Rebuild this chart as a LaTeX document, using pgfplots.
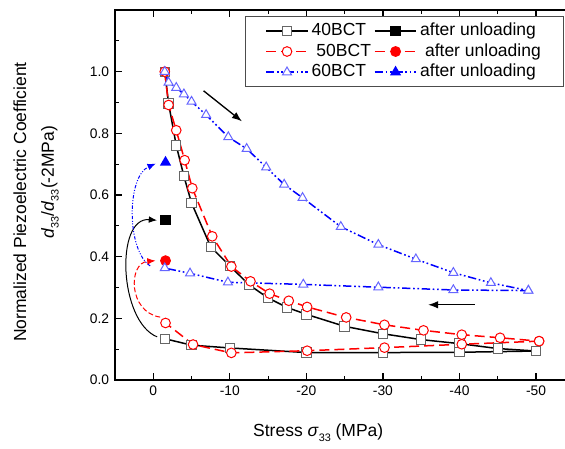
\documentclass[border=0pt]{standalone}
\usepackage{fontspec}
\setmainfont{Liberation Sans}
\usepackage{pgfplots}
\pgfplotsset{compat=1.18}
\usetikzlibrary{arrows.meta}

\newcommand{\sub}[1]{\raisebox{-0.5ex}{\fontsize{6.5}{7}\selectfont #1}}

\begin{document}
\begin{tikzpicture}
\begin{axis}[
    at={(0,0)}, anchor=south west,
    scale only axis,
    width=275.6pt, height=222pt,
    x dir=reverse,
    xmin=-55, xmax=5,
    ymin=0, ymax=1.2,
    xtick={0,-10,-20,-30,-40,-50},
    minor xtick={5,-5,-15,-25,-35,-45},
    ytick={0,0.2,0.4,0.6,0.8,1.0},
    minor ytick={0.1,0.3,0.5,0.7,0.9,1.1},
    yticklabel style={/pgf/number format/.cd,fixed,fixed zerofill,precision=1},
    /pgf/number format/assume math mode=true,
    tick label style={font=\fontsize{8.3}{10}\selectfont},
    major tick length=4pt, minor tick length=2.4pt,
    tick style={black, line width=0.7pt},
    axis line style={line width=0.7pt},
    clip=false,
    legend columns=2,
    legend style={at={(rel axis cs:0.283,0.984)}, anchor=north west,
        draw=black!70, line width=0.5pt,
        font=\fontsize{10.5}{12}\selectfont,
        inner xsep=12pt, inner ysep=2.5pt,
        nodes={font=\fontsize{10.5}{12}\selectfont, inner xsep=1.8pt, inner ysep=1.2pt, text height=7.8pt, text depth=2.2pt},
        column sep=0pt, row sep=0pt},
    legend cell align=left,
    legend image code/.code={\draw[mark repeat=2,mark phase=2] plot coordinates {(0cm,0cm)(0.44cm,0cm)(0.88cm,0cm)};},
]

% loading curves and the values after unloading (legend order)
\addplot[black, line width=0.9pt, mark=square*, mark size=2.8pt, mark options={solid, draw=black!60, fill=white, line width=0.6pt}] coordinates {
(-1.5,1.0) (-2,0.897) (-3,0.761) (-4,0.661) (-5,0.574) (-7.5,0.432) (-10,0.37)
(-12.5,0.309) (-15,0.266) (-17.5,0.235) (-20,0.213) (-25,0.174) (-30,0.150)
(-35,0.131) (-40,0.118) (-45,0.102) (-50,0.094)
};
\addlegendentry{40BCT}
\addplot[black, line width=0.9pt, mark=square*, mark size=2.6pt, mark options={solid, fill=black}] coordinates {(-1.6,0.518)};
\addlegendentry{after unloading\hspace{10pt}}

\addplot[red, line width=0.9pt, dash pattern=on 6pt off 3pt, mark=*, mark size=2.9pt, mark options={solid, draw=red, fill=white, line width=0.6pt}] coordinates {
(-1.5,1.0) (-2,0.892) (-3,0.81) (-4.1,0.713) (-5.1,0.622) (-7.7,0.466) (-10.2,0.368)
(-12.7,0.32) (-15.2,0.28) (-17.7,0.257) (-20.1,0.237) (-25.2,0.203) (-30.2,0.179)
(-35.3,0.161) (-40.3,0.147) (-45.3,0.137) (-50.4,0.126)
};
\addlegendentry{\ 50BCT}
\addplot[red, line width=0.9pt, dash pattern=on 6pt off 3pt, mark=*, mark size=2.8pt, mark options={solid, fill=red}] coordinates {(-1.6,0.387)};
\addlegendentry{\ after unloading}

\addplot[blue, line width=0.9pt, dash pattern=on 5pt off 1.6pt on 1pt off 1.6pt on 1pt off 1.6pt, mark=triangle*, mark size=3.1pt, mark options={solid, draw=blue!60, fill=white, line width=0.6pt}] coordinates {
(-1.5,1.0) (-2,0.965) (-3,0.948) (-4,0.927) (-5,0.903) (-6.9,0.86) (-9.8,0.788)
(-12.2,0.75) (-14.75,0.69) (-17.1,0.634) (-19.5,0.591) (-24.5,0.497) (-29.4,0.439)
(-34.3,0.392) (-39.2,0.348) (-44.1,0.315) (-49,0.29)
};
\addlegendentry{60BCT}
\addplot[blue, line width=0.9pt, dash pattern=on 5pt off 1.6pt on 1pt off 1.6pt on 1pt off 1.6pt, mark=triangle*, mark size=3pt, mark options={solid, fill=blue}] coordinates {(-1.6,0.706)};
\addlegendentry{after unloading}

% unloading curves
\addplot[forget plot, black, line width=0.9pt, mark=square*, mark size=2.8pt, mark options={solid, draw=black!60, fill=white, line width=0.6pt}] coordinates {
(-50,0.094) (-40,0.090) (-30,0.089) (-20,0.089) (-10,0.104) (-5,0.113) (-1.5,0.134)
};
\addplot[forget plot, red, line width=0.9pt, dash pattern=on 6pt off 3pt, mark=*, mark size=2.9pt, mark options={solid, draw=red, fill=white, line width=0.6pt}] coordinates {
(-50.4,0.126) (-40.3,0.116) (-30.2,0.105) (-20.1,0.095) (-10.2,0.088) (-5.2,0.115) (-1.6,0.185)
};
\addplot[forget plot, blue, line width=0.9pt, dash pattern=on 5pt off 1.6pt on 1pt off 1.6pt on 1pt off 1.6pt, mark=triangle*, mark size=3.1pt, mark options={solid, draw=blue!60, fill=white, line width=0.6pt}] coordinates {
(-49,0.29) (-39.2,0.292) (-29.4,0.301) (-19.6,0.31) (-9.75,0.317) (-4.8,0.346) (-1.5,0.363)
};

% arrows
\draw[black, line width=0.6pt, -{Latex[length=5pt,width=4pt]}] (axis cs:-0.5,0.14) .. controls (axis cs:4.5,0.19) and (axis cs:5,0.53) .. (axis cs:-0.5,0.518);
\draw[red, line width=0.6pt, dash pattern=on 3pt off 1.5pt, -{Latex[length=5pt,width=4pt]}] (axis cs:-0.9,0.204) .. controls (axis cs:3.3,0.22) and (axis cs:3.3,0.38) .. (axis cs:-0.3,0.387);
\draw[blue, line width=0.6pt, dash pattern=on 2pt off 1pt on 0.6pt off 1pt on 0.6pt off 1pt, -{Latex[length=5pt,width=4pt]}] (axis cs:0.4,0.37) .. controls (axis cs:3.5,0.42) and (axis cs:3.5,0.66) .. (axis cs:-0.33,0.702);
\draw[black, line width=0.8pt, -{Latex[length=6pt,width=4.5pt]}] (axis cs:-6.57,0.938) -- (axis cs:-11.58,0.839);
\draw[black, line width=0.8pt, -{Latex[length=6pt,width=4.5pt]}] (axis cs:-42,0.244) -- (axis cs:-35.9,0.244);

% axis labels
\node[rotate=90, font=\fontsize{10.5}{12}\selectfont] at ([xshift=-57pt]rel axis cs:0,0.481) {Normalized Piezoelectric Coefficient};
\node[rotate=90, font=\fontsize{10.5}{12}\selectfont] at ([xshift=-39pt]rel axis cs:0,0.535) {\textit{d}\sub{33}/\textit{d}\sub{33}(-2MPa)};
\node[anchor=base, font=\fontsize{10.5}{12}\selectfont] at ([yshift=-33.9pt]rel axis cs:0.4425,0) {Stress \textit{σ}\sub{33} (MPa)};
\end{axis}
\pgfresetboundingbox
\path[use as bounding box] (-69pt,-40.8pt) rectangle (270pt,228pt);
\end{tikzpicture}
\end{document}
